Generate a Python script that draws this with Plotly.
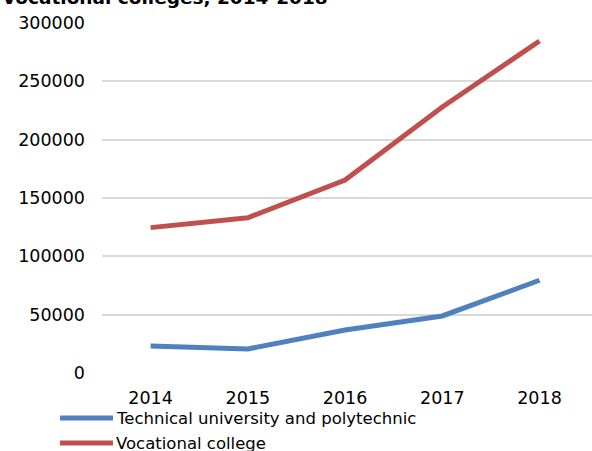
import plotly.graph_objects as go

years = ["2014", "2015", "2016", "2017", "2018"]
technical = [23100, 20600, 36900, 48900, 79500]
vocational = [124600, 133100, 165400, 228000, 284600]
series_names = ["Technical university and polytechnic", "Vocational college"]
colors = ["#4F81BD", "#C0504D"]
y_ticks = [0, 50000, 100000, 150000, 200000, 250000, 300000]
title_text = "Vocational colleges, 2014-2018"

FONT = "DejaVu Sans"

fig = go.Figure()
for name, vals, col in zip(series_names, [technical, vocational], colors):
    fig.add_trace(go.Scatter(
        x=years, y=vals, mode="lines", name=name,
        line=dict(color=col, width=5),
        showlegend=False,
    ))

# hand-built legend below the axis
legend_rows = [-0.1286, -0.2]
for name, col, ly in zip(series_names, colors, legend_rows):
    fig.add_shape(type="line", xref="paper", yref="paper",
                  x0=-0.0857, x1=0.0224, y0=ly, y1=ly,
                  line=dict(color=col, width=5))
    fig.add_annotation(text=name, xref="paper", yref="paper",
                       x=0.0245, y=ly, xanchor="left", yanchor="middle",
                       showarrow=False,
                       font=dict(family=FONT, size=16.5, color="#000000"))

fig.add_annotation(text="<b>" + title_text + "</b>", xref="paper", yref="paper",
                   x=-0.208, y=1.036, xanchor="left", yanchor="bottom",
                   showarrow=False,
                   font=dict(family=FONT, size=18.5, color="#000000"))

fig.update_layout(
    width=592, height=451,
    margin=dict(l=102, r=0, t=23, b=78),
    paper_bgcolor="white", plot_bgcolor="white",
    font=dict(family=FONT, size=17, color="#000000"),
    xaxis=dict(type="category", range=[-0.5, 4.54], showgrid=False,
               showline=False, ticks="", ticklabelstandoff=12,
               tickfont=dict(size=17.5)),
    yaxis=dict(range=[0, 300000], tickvals=y_ticks,
               ticktext=[str(v) for v in y_ticks],
               showgrid=True, gridcolor="#D9D9D9", gridwidth=1.5,
               zeroline=False, showline=False, ticks="",
               ticklabelstandoff=16, tickfont=dict(size=17.5)),
)

fig.write_html("out.html")
